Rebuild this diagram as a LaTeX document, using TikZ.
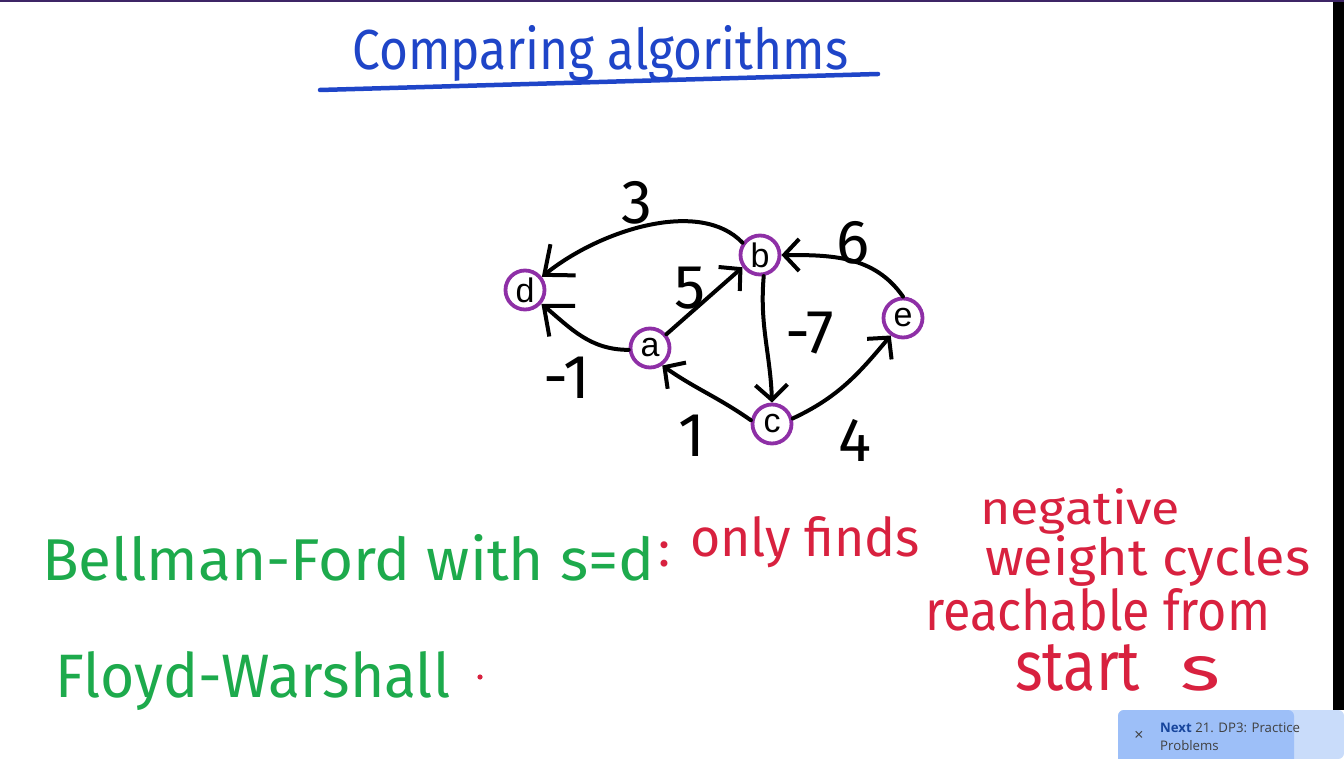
\documentclass[tikz,border=0pt]{standalone}
\usepackage{fontspec}
\setmainfont{Liberation Sans}
\newfontfamily\hand{Fira Sans}
\newfontfamily\ui{Open Sans}
\usetikzlibrary{arrows.meta}
\definecolor{ttblue}{HTML}{1F45C8}
\definecolor{ttgreen}{HTML}{1DAA4C}
\definecolor{ttred}{HTML}{D8213F}
\definecolor{ttpurple}{HTML}{8E2FA6}
\definecolor{toastA}{HTML}{9DBFF8}
\definecolor{toastB}{HTML}{C9DCFA}
\definecolor{toastT}{HTML}{17459C}
\definecolor{topbar}{HTML}{3D2566}
\tikzset{
  vtx/.style={circle,draw=ttpurple,line width=3.8pt,minimum size=39pt,inner sep=0pt,font=\fontsize{34}{34}\selectfont},
  edge/.style={line width=4pt,line cap=round,-{Straight Barb[length=15pt,width=32pt,line width=4pt]}},
  bigedge/.style={line width=4pt,line cap=round,-{Straight Barb[length=24pt,width=40pt,line width=4pt]}},
  wlabel/.style={font=\hand\fontsize{62}{62}\selectfont,inner sep=0pt},
  txt/.style={anchor=base west,inner sep=0pt,font=\hand\fontsize{10}{12}\selectfont}
}
\begin{document}
\begin{tikzpicture}[x=1pt,y=-1pt]
\useasboundingbox (0,0) rectangle (1344,759);
\fill[white] (0,0) rectangle (1344,759);
\fill[topbar] (0,0) rectangle (1344,2);
\fill[black] (1333,2) rectangle (1344,710);
% title
\node[txt,text=ttblue] (title) at (352,70) {\resizebox{496pt}{44pt}{Comparing algorithms}};
\coordinate (ulA) at (320,90);
\coordinate (ulB) at (878,74);
\draw[ttblue,line width=4.5pt,line cap=round] (ulA) -- (ulB);
% graph
\node[vtx] (d) at (525,290) {d};
\node[vtx] (b) at (760,255) {b};
\node[vtx] (a) at (650,348) {a};
\node[vtx] (e) at (903,318) {e};
\node[vtx] (c) at (772,424) {c};
\draw[bigedge] (b.145) .. controls (700,198) and (600,230) .. (d.38);
\draw[bigedge] (a.185) to[out=180,in=-40] (d.-40);
\draw[edge] (a.40) -- (b.215);
\draw[edge] (b.-80) to[out=-95,in=92] (c.north);
\draw[edge] (c.170) to[out=145,in=-35] (a.-55);
\draw[edge] (c.15) to[out=25,in=-130] (e.-125);
\draw[edge] (e.north) to[out=125,in=0] (b.east);
\node[wlabel] (l3) at (637,203) {3};
\node[wlabel] (l5) at (690,288) {5};
\node[wlabel] (l6) at (853,243) {6};
\node[wlabel] (l7) at (810,333) {-7};
\node[wlabel] (l1m) at (567,378) {-1};
\node[wlabel] (l1) at (692,436) {1};
\node[wlabel] (l4) at (855,440) {4};
% green text
\node[txt,text=ttgreen] (bf) at (42,580) {\resizebox{612pt}{46pt}{Bellman-Ford with s=d}};
\node[txt,text=ttred] (colon) at (658,566) {\fontsize{50}{50}\selectfont\hand :};
\node[txt,text=ttgreen] (fw) at (55,697) {\resizebox{395pt}{46pt}{Floyd-Warshall}};
\fill[ttred] (480,677) circle (2.6pt);
% red text
\node[txt,text=ttred] (of) at (690,556) {\resizebox{230pt}{40pt}{only finds}};
\node[txt,text=ttred] (neg) at (980,524) {\resizebox{200pt}{36pt}{negative}};
\node[txt,text=ttred] (wc) at (985,575) {\resizebox{325pt}{40pt}{weight cycles}};
\node[txt,text=ttred] (rf) at (925,630) {\resizebox{345pt}{42pt}{reachable from}};
\node[txt,text=ttred] (st) at (1015,690) {\resizebox{125pt}{46pt}{start}};
\node[txt,text=ttred] (s2) at (1180,690) {\resizebox{40pt}{34pt}{s}};
% toast
\fill[toastB,rounded corners=6pt] (1118,759) -- (1118,710) -- (1344,710) -- (1344,759) -- cycle;
\fill[toastA,rounded corners=6pt] (1118,759) -- (1118,710) -- (1294,710) [sharp corners] -- (1294,759) -- cycle;
\node[anchor=center,inner sep=0pt,text=black!75,font=\ui\fontsize{16}{16}\selectfont] (xicon) at (1139,736) {×};
\node[anchor=base west,inner sep=0pt,font=\ui\fontsize{13.2}{16}\selectfont,text=black!75] (nxt) at (1160,732)
  {\textcolor{toastT}{\bfseries Next} 21. DP3: Practice};
\node[anchor=base west,inner sep=0pt,font=\ui\fontsize{13.2}{16}\selectfont,text=black!75] (prb) at (1160,750) {Problems};
\end{tikzpicture}
\end{document}
